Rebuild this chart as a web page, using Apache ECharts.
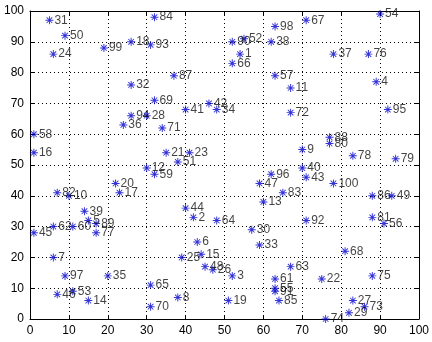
<!DOCTYPE html>
<html>
<head>
<meta charset="utf-8">
<script src="https://cdn.jsdelivr.net/npm/echarts@6/dist/echarts.min.js"></script>
<style>
  html, body { margin: 0; padding: 0; background: #fff; }
  #chart { width: 432px; height: 342px; }
</style>
</head>
<body>
<div id="chart"></div>
<script>
// point numbers and their coordinates
const ids = [];
for (let i = 1; i <= 100; i++) ids.push(i);
const xs = [54, 42, 52, 89, 15, 43, 6, 38, 70, 10,
            67, 30, 60, 15, 44, 1, 23, 26, 51, 22,
            35, 75, 41, 6, 39, 47, 83, 30, 82, 57,
            5, 26, 59, 48, 20, 24, 78, 62, 14, 70,
            40, 46, 71, 40, 1, 7, 59, 45, 93, 9,
            38, 55, 11, 90, 63, 91, 63, 1, 32, 11,
            63, 6, 67, 48, 31, 52, 71, 81, 32, 31,
            34, 67, 86, 76, 88, 87, 17, 83, 94, 77,
            88, 7, 65, 32, 64, 88, 37, 77, 17, 52,
            63, 71, 31, 26, 92, 62, 9, 63, 19, 78];
const ys = [86, 33, 14, 77, 32, 25, 20, 7, 55, 40,
            75, 49, 38, 6, 21, 54, 41, 90, 6, 44,
            54, 13, 54, 86, 20, 16, 6, 66, 2, 29,
            97, 76, 24, 68, 14, 63, 86, 90, 35, 49,
            68, 70, 46, 36, 28, 8, 44, 17, 40, 92,
            51, 91, 9, 99, 10, 31, 79, 60, 47, 30,
            13, 30, 17, 32, 11, 83, 97, 22, 71, 4,
            62, 67, 4, 0, 14, 86, 28, 53, 52, 57,
            33, 41, 41, 98, 6, 40, 79, 59, 31, 90,
            9, 32, 89, 66, 68, 47, 14, 95, 88, 44];
const ticks = [0, 10, 20, 30, 40, 50, 60, 70, 80, 90, 100];

const pts = ids.map((id, i) => ({ value: [xs[i], ys[i]], name: String(id) }));

// matlab style '*' marker
const star = 'path://M0 4.4H10V5.6H0Z M4.4 0H5.6V10H4.4Z M1.1 1.9L1.9 1.1L8.9 8.1L8.1 8.9Z M8.1 1.1L8.9 1.9L1.9 8.9L1.1 8.1Z';

let chart = echarts.init(document.getElementById('chart'));

const font = 'Liberation Sans, Arial, sans-serif';
function axis(pos, labels) {
    return {
        type: 'value',
        position: pos,
        min: ticks[0],
        max: ticks[ticks.length - 1],
        interval: 10,
        axisLine: { show: true, onZero: false, lineStyle: { color: '#000', width: 1 } },
        axisTick: { show: true, inside: true, length: 4, lineStyle: { color: '#000' } },
        axisLabel: { show: labels, color: '#000', fontSize: 12, fontFamily: font, margin: 6 },
        splitLine: { show: labels, lineStyle: { color: '#000', type: [1, 3], width: 1 } }
    };
}

let option = {
    backgroundColor: '#fff',
    animation: false,
    grid: { left: 30, right: 11, top: 11, bottom: 23, show: false },
    xAxis: [axis('bottom', true), axis('top', false)],
    yAxis: [axis('left', true), axis('right', false)],
    series: [{
        type: 'scatter',
        data: pts,
        symbol: star,
        symbolSize: 8,
        clip: false,
        itemStyle: { color: '#0000cc' },
        label: {
            show: true,
            position: 'right',
            distance: 1,
            formatter: '{b}',
            color: '#111',
            fontSize: 12,
            fontFamily: font
        },
        labelLayout: { hideOverlap: false }
    }]
};

chart.setOption(option);
</script>
</body>
</html>
